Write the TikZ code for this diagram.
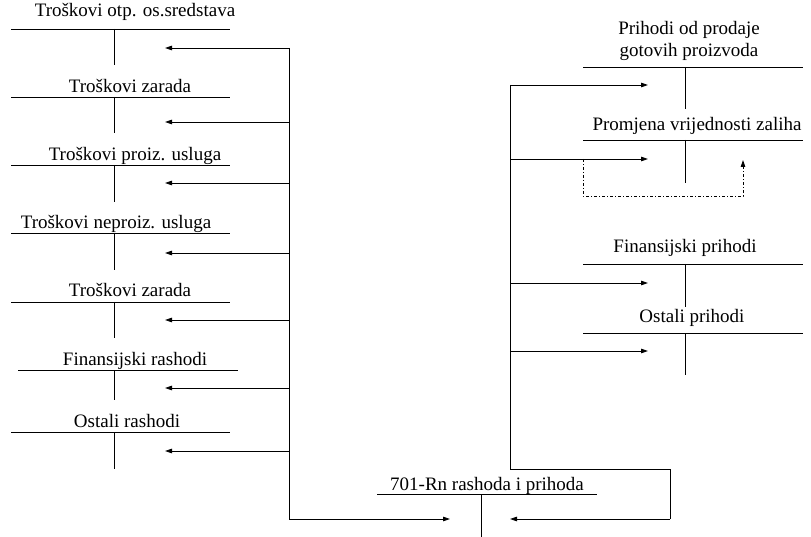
\documentclass[tikz,border=0pt]{standalone}
\usepackage{fontspec}
\setmainfont{Liberation Serif}
\newfontfamily\lserif{Liberation Serif}
\usetikzlibrary{arrows.meta}
\begin{document}
\begin{tikzpicture}[x=1pt,y=-1pt,
  lbl/.style={anchor=base,inner sep=0pt,font=\lserif\fontsize{19}{22}\selectfont},
  tline/.style={line width=0.8pt},
  flow/.style={line width=0.8pt,-{Triangle[length=7pt,width=4.5pt]}},
  dd/.style={line width=0.8pt,dash pattern=on 3pt off 2pt on 1pt off 2pt,-{Triangle[length=7pt,width=4.5pt]}}]
\useasboundingbox (0,0) rectangle (811,537);
% ---------- left accounts ----------
\node[lbl] (t1) at (135,17) {Troškovi otp. os.sredstava};
\node[lbl] (t2) at (130,93) {Troškovi zarada};
\node[lbl] (t3) at (135,161) {Troškovi proiz. usluga};
\node[lbl] (t4) at (116,229) {Troškovi neproiz. usluga};
\node[lbl] (t5) at (130,297) {Troškovi zarada};
\node[lbl] (t6) at (135,365) {Finansijski rashodi};
\node[lbl] (t7) at (127,427) {Ostali rashodi};
\foreach \i/\ly/\vb/\xa/\xb in {1/29/65/11/230, 2/97/133/11/230, 3/165/202/11/230, 4/233/270/11/230, 5/302/338/11/230, 6/370/400/18/238, 7/432/469/11/230}{
  \coordinate (La\i) at (\xa,\ly);
  \coordinate (Lb\i) at (\xb,\ly);
  \coordinate (Lt\i) at (114,\ly);
  \coordinate (Lv\i) at (114,\vb);
  \draw[tline] (La\i) -- (Lb\i);
  \draw[tline] (Lt\i) -- (Lv\i);
}
% left bus and arrows
\foreach \i/\ay in {1/48, 2/122, 3/183, 4/253, 5/320, 6/388, 7/451}{
  \coordinate (Bs\i) at (289,\ay);
  \coordinate (Ae\i) at (165,\ay);
  \draw[flow] (Bs\i) -- (Ae\i);
}
\coordinate (Bbot) at (289,519);
\coordinate (Rin) at (450,519);
\draw[tline] (Bs1) -- (Bbot);
\draw[flow] (Bbot) -- (Rin);
% ---------- right accounts ----------
\node[lbl] (p1a) at (689,35) {Prihodi od prodaje};
\node[lbl] (p1b) at (689,57) {gotovih proizvoda};
\node[lbl] (p2) at (697,131) {Promjena vrijednosti zaliha};
\node[lbl] (p3) at (685,253) {Finansijski prihodi};
\node[lbl] (p4) at (692,323) {Ostali prihodi};
\foreach \i/\ly/\vb in {1/67/109, 2/140/183, 3/264/307, 4/333/375}{
  \coordinate (Ra\i) at (583,\ly);
  \coordinate (Rb\i) at (803,\ly);
  \coordinate (Rt\i) at (685,\ly);
  \coordinate (Rv\i) at (685,\vb);
  \draw[tline] (Ra\i) -- (Rb\i);
  \draw[tline] (Rt\i) -- (Rv\i);
}
\foreach \i/\ay in {1/85, 2/159, 3/283, 4/351}{
  \coordinate (Cs\i) at (510,\ay);
  \coordinate (Ce\i) at (648,\ay);
  \draw[flow] (Cs\i) -- (Ce\i);
}
\coordinate (Cbot) at (510,469);
\coordinate (Ccor) at (670,469);
\coordinate (Cend) at (670,519);
\coordinate (Cin) at (510,519);
\draw[tline] (Cs1) -- (Cbot) -- (Ccor) -- (Cend);
\draw[flow] (Cend) -- (Cin);
% dash-dot correction
\coordinate (D1) at (583,159);
\coordinate (D2) at (583,196);
\coordinate (D3) at (743,196);
\coordinate (D4) at (743,160);
\draw[dd] (D1) -- (D2) -- (D3) -- (D4);
% ---------- bottom account ----------
\node[lbl] (r) at (487,490) {701-Rn rashoda i prihoda};
\coordinate (Ma) at (377,494);
\coordinate (Mb) at (597,494);
\coordinate (Mt) at (481,494);
\coordinate (Mv) at (481,537);
\draw[tline] (Ma) -- (Mb);
\draw[tline] (Mt) -- (Mv);
\end{tikzpicture}
\end{document}
